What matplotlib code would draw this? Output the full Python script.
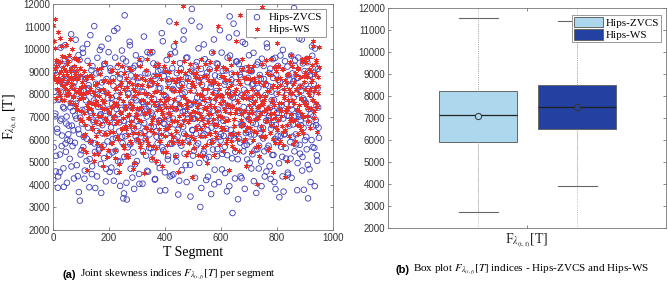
import numpy as np
import matplotlib
matplotlib.use('Agg')
import matplotlib.pyplot as plt
from matplotlib.patches import Patch

plt.rcParams['font.family'] = ['Liberation Serif', 'DejaVu Serif']
plt.rcParams['mathtext.fontset'] = 'stix'

# values, in tens (712 -> 7120)
# first pass of segments
zvcs_tens_a = [
    421,774,903,715,528,886,632,437,782,455,684,812,571,928,744,391,863,1018,546,702,
    598,833,662,951,595,763,481,912,726,641,853,586,1042,693,801,438,974,625,330,534,
    894,671,1003,567,792,463,734,871,604,948,826,826,514,1062,718,447,925,688,773,583,
    386,847,638,962,745,553,897,706,492,1011,664,815,574,934,728,415,868,627,783,987,
    532,695,904,476,759,603,838,1081,674,551,794,458,921,713,636,872,503,764,994,585,
    340,362,1150,615,946,335,526,807,668,1033,579,884,743,432,916,649,785,491,973,684,
    597,836,721,404,875,628,956,767,548,812,673,724,601,736,462,893,796,563,982,657,
    844,512,706,937,779,423,869,636,757,584,903,682,474,828,615,1071,744,552,881,669,
    376,791,952,706,528,854,1123,582,765,441,916,693,818,604,986,735,503,861,643,781,
    418,938,674,573,846,724,1043,626,809,487,962,712,594,872,763,756,348,905,1178,641,
    693,551,897,765,626,943,704,583,858,1100,302,913,668,785,537,1021,624,808,516,879,
    694,436,942,734,588,833,653,985,556,767,402,884,676,815,527,934,719,611,1084,596,
    792,468,904,683,754,568,857,648,371,963,726,1052,1145,791,615,892,275,804,623,765,
    546,945,1070,807,336,934,718,587,876,429,912,666,744,573,1024,629,806,512,873,692,
    739,591,905,472,843,675,984,622,783,556,364,932,714,829,573,886,651,503,958,734,
    605,868,437,797,683,1025,561,838,705,482,914,648,775,532,873,726,412,962,664,803,
    589,926,695,345,854,617,751,524,997,370,623,947,563,798,706,454,885,662,837,516,
    972,733,613,858,1182,926,704,579,874,496,963,701,577,834,663,1043,523,782,378,903,
    694,763,557,942,340,824,469,887,712,598,971,658,821,563,1003,686,751,506,913,653,
]
# in-between segments
zvcs_tens_b = [
    566,812,703,459,925,648,387,776,861,534,1007,692,618,845,473,738,956,583,671,409,
    799,624,887,515,743,1066,662,571,834,428,915,706,759,487,873,645,368,952,697,812,
    553,731,984,612,427,868,774,506,1023,653,841,389,726,591,907,482,805,679,1102,546,
    764,893,437,675,818,561,996,712,364,853,627,742,518,935,688,471,807,592,1047,733,
    457,916,654,785,543,872,418,698,963,607,735,1092,504,828,676,395,889,731,612,958,
    683,524,847,743,409,913,566,802,638,1017,471,765,692,856,543,382,927,615,774,505,
    872,659,448,934,717,587,813,405,765,1056,636,893,529,702,987,458,748,623,845,562,
    719,987,543,657,882,426,754,613,931,498,826,685,374,908,741,566,1035,672,797,455,
    903,624,781,512,866,693,437,978,735,582,824,446,1013,667,755,528,894,613,357,842,
    586,742,913,465,803,657,1082,538,726,874,412,963,694,605,837,488,754,1126,643,529,
    817,693,431,928,574,786,654,1004,497,873,725,386,842,618,763,547,956,683,421,896,
    642,775,523,911,683,359,848,726,594,1043,467,805,662,937,558,733,412,879,697,624,
    985,537,764,617,843,452,906,688,531,812,749,394,972,643,863,517,786,1113,605,428,
    853,672,946,513,728,604,887,437,795,663,1032,548,821,382,914,706,577,854,634,973,
    497,781,623,902,535,847,416,738,1061,669,806,557,943,472,713,625,868,394,784,652,
    926,548,717,843,459,1008,686,573,895,741,426,812,664,956,532,775,603,381,887,718,
    617,864,495,733,972,568,809,437,693,1084,624,847,516,758,923,445,705,866,589,752,
    431,893,667,786,548,951,623,802,376,874,712,1047,538,685,816,463,937,652,774,597,
    845,612,957,488,736,673,882,412,798,1012,567,703,845,394,919,664,531,827,742,608,
]

ws_tens_a = [
    1108,883,1004,1132,925,857,948,874,813,1051,796,902,843,968,866,775,914,823,1017,887,
    933,858,976,802,1046,875,918,847,789,961,824,893,746,905,868,812,952,781,887,834,
    725,853,618,784,902,663,804,546,881,742,694,933,592,823,764,645,874,713,507,796,
    842,677,913,584,752,818,636,892,705,563,776,861,623,735,942,682,805,524,853,721,
    674,793,905,583,746,634,862,703,552,828,761,615,934,683,493,806,722,854,645,575,
    771,896,661,748,534,834,703,621,917,763,596,684,847,735,472,792,657,884,713,604,
    843,627,735,958,586,775,683,873,542,805,716,656,906,604,763,835,575,724,993,668,
    792,518,857,702,627,884,753,561,813,683,936,645,774,594,867,723,482,804,694,903,
    617,744,833,577,785,663,974,713,624,866,745,587,815,684,1032,637,1118,867,594,763,
    704,826,663,902,583,1192,794,686,893,621,758,865,543,772,687,934,715,618,843,766,
    894,563,875,724,647,803,692,921,756,614,852,703,794,527,883,741,665,933,576,824,
    745,676,908,783,623,851,712,594,987,743,671,853,612,794,926,705,1104,822,763,654,
    883,698,773,921,645,725,862,583,806,754,687,957,624,793,843,573,745,893,661,814,
    716,1037,603,776,862,734,551,1152,685,793,912,667,808,725,603,874,783,657,926,719,
    785,652,904,737,826,598,763,874,692,803,635,402,743,572,853,713,791,662,1185,756,
    843,726,614,793,954,683,817,742,563,885,713,664,832,774,602,923,753,694,867,1028,
    643,806,734,585,873,762,704,912,634,826,785,433,857,722,663,892,743,615,806,973,
    697,775,846,582,763,894,687,822,731,625,915,754,662,836,778,945,713,628,883,766,
    826,962,705,884,742,796,913,652,857,774,932,1036,815,725,894,763,942,633,835,1008,
]
ws_tens_b = [
    867,1035,912,784,953,826,1074,893,807,942,858,1016,775,921,884,836,967,798,903,852,
    816,947,873,768,905,834,1002,791,868,925,757,884,812,956,733,872,826,693,917,804,
    684,792,557,836,718,625,873,754,466,812,697,768,593,887,736,654,812,538,756,683,
    773,615,852,704,536,793,668,917,574,742,823,482,768,697,864,623,735,552,806,718,
    632,857,745,583,906,694,762,517,825,673,748,896,604,783,455,842,716,652,924,695,
    824,563,734,872,645,792,523,856,715,664,906,583,747,826,627,497,813,702,875,742,
    598,806,688,924,567,745,843,624,776,452,865,714,652,803,956,583,729,868,642,775,
    853,685,573,812,764,927,506,733,846,674,594,885,738,623,804,713,545,927,762,648,
    776,543,862,718,653,897,744,592,826,683,945,612,778,853,527,734,682,904,458,816,
    663,874,752,595,836,713,947,624,785,532,863,742,676,907,583,817,694,436,855,728,
    836,602,768,893,657,745,532,874,716,803,645,958,692,567,826,774,618,883,735,496,
    712,865,627,754,943,583,806,692,865,534,778,632,914,725,664,847,575,796,706,883,
    647,793,548,876,734,682,912,603,758,827,465,864,716,596,932,748,623,805,692,557,
    824,736,893,627,765,548,846,714,662,957,595,783,873,637,726,484,815,694,903,752,
    683,866,547,794,718,925,636,772,857,568,743,804,695,526,883,752,617,934,768,643,
    776,612,853,737,682,896,554,814,742,627,957,693,765,458,843,718,586,902,655,833,
    925,687,763,594,842,726,658,913,575,795,862,643,734,887,506,774,826,683,945,712,
    805,926,684,763,857,592,886,735,663,914,807,728,876,641,783,958,702,856,764,897,
    943,754,876,812,683,967,825,738,905,862,776,1014,694,887,833,952,745,876,806,923,
]

segments = np.concatenate([np.arange(1, 951, 2.5), np.arange(2.25, 951, 2.5)])
zvcs = np.array(zvcs_tens_a + zvcs_tens_b) * 10
ws = np.array(ws_tens_a + ws_tens_b) * 10

# box plot statistics
box_names = ['Hips-ZVCS', 'Hips-WS']
box_whislo = [2750, 3920]
box_q1 = [5890, 6500]
box_med = [7120, 7500]
box_q3 = [8240, 8480]
box_whishi = [11550, 11420]
box_mean = [7075, 7485]
box_colors = ['#acd7ec', '#2341a0']

fig = plt.figure(figsize=(6.68, 2.84), dpi=100)
edge = '#666666'

# (a) scatter
ax1 = fig.add_axes([53/668, 54/284, 280/668, 226/284])
ax1.scatter(segments, zvcs, s=16, facecolors='none', edgecolors='#3a3ab8', linewidths=0.6, label='Hips-ZVCS', zorder=2)
ax1.scatter(segments, ws, s=11, marker=(6, 2, 0), color='#e8302a', linewidths=0.6, label='Hips-WS', zorder=3)
ax1.set_xlim(0, 1000)
ax1.set_ylim(2000, 12000)
ax1.set_xticks(np.arange(0, 1001, 200))
ax1.set_yticks(np.arange(2000, 12001, 1000))
ax1.set_xlabel('T Segment', fontsize=10, labelpad=2)
ax1.set_ylabel(r'F$_{\lambda_{\mathrm{(t,f)}}}$ [T]', fontsize=10, labelpad=3)
leg1 = ax1.legend(loc='upper right', bbox_to_anchor=(326/668, 1 - 9/284), bbox_transform=fig.transFigure,
                  fontsize=8, fancybox=False, edgecolor='#888888', borderpad=0.3, handletextpad=0.4,
                  labelspacing=0.2, handlelength=1.4, borderaxespad=0, framealpha=1)
leg1.get_frame().set_linewidth(0.6)

# (b) box plot
ax2 = fig.add_axes([388/668, 56/284, 278/668, 220/284])
positions = [0.824, 1.18]
stats = []
for i in range(2):
    stats.append({'label': box_names[i], 'whislo': box_whislo[i], 'q1': box_q1[i], 'med': box_med[i],
                  'q3': box_q3[i], 'whishi': box_whishi[i], 'mean': box_mean[i], 'fliers': []})
for x in positions:
    ax2.axvline(x, color='#aaaaaa', ls=':', lw=0.6, zorder=0)
bp = ax2.bxp(stats, positions=positions, widths=0.28, showmeans=True, patch_artist=True,
             capwidths=0.14, manage_ticks=False,
             boxprops={'edgecolor': edge, 'linewidth': 0.7},
             whiskerprops={'color': '#aaaaaa', 'linestyle': ':', 'linewidth': 0.6},
             capprops={'color': edge, 'linewidth': 0.8},
             medianprops={'color': '#222222', 'linewidth': 0.9},
             meanprops={'marker': 'o', 'markeredgecolor': '#333333', 'markersize': 4.5, 'markeredgewidth': 0.7})
for patch, c in zip(bp['boxes'], box_colors):
    patch.set_facecolor(c)
for m, c in zip(bp['means'], box_colors):
    m.set_markerfacecolor(c)
ax2.set_xlim(0.5, 1.5)
ax2.set_ylim(2000, 12000)
ax2.set_yticks(np.arange(2000, 12001, 1000))
ax2.set_xticks([1])
ax2.set_xticklabels([r'F$_{\lambda_{\mathrm{(t,f)}}}$[T]'], fontsize=10)
handles = [Patch(facecolor=box_colors[0], edgecolor=edge, linewidth=0.7),
           Patch(facecolor=box_colors[1], edgecolor=edge, linewidth=0.7)]
leg2 = ax2.legend(handles, box_names, loc='upper right', bbox_to_anchor=(661/668, 1 - 15/284),
                  bbox_transform=fig.transFigure, fontsize=8, fancybox=False, edgecolor='#888888',
                  borderpad=0.15, handletextpad=0.3, labelspacing=0.1, handlelength=2.6,
                  handleheight=1.1, borderaxespad=0, framealpha=1)
leg2.get_frame().set_linewidth(0.6)

for ax in (ax1, ax2):
    ax.tick_params(direction='in', length=2.5, width=0.5, top=True, right=True, colors='#555555', pad=2)
    for lab in ax.get_yticklabels():
        lab.set_fontfamily('Liberation Sans')
        lab.set_fontsize(7)
        lab.set_color('#333333')
    for sp in ax.spines.values():
        sp.set_color('#777777')
        sp.set_linewidth(0.6)
for lab in ax1.get_xticklabels():
    lab.set_fontfamily('Liberation Sans')
    lab.set_fontsize(7)
    lab.set_color('#333333')
ax2.get_xticklabels()[0].set_color('#222222')

# captions
fig.text(63/668, 1 - 275/284, '(a)', family='Liberation Sans', weight='bold', fontsize=8, va='center')
fig.text(80/668, 1 - 275/284, r'Joint skewness indices $F_{\lambda_{(t,f)}}[T]$ per segment', fontsize=8, va='center')
fig.text(396/668, 1 - 270/284, '(b)', family='Liberation Sans', weight='bold', fontsize=8, va='center')
fig.text(413/668, 1 - 270/284, r'Box plot $F_{\lambda_{(t,f)}}[T]$ indices - Hips-ZVCS and Hips-WS', fontsize=8, va='center')

fig.savefig('out.png', dpi=100)
